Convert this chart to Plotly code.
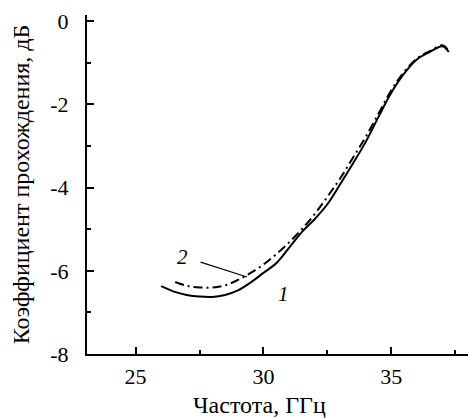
import plotly.graph_objects as go

# Curve 1 (solid)
freq1 = [26.0, 26.5, 27.0, 27.5, 28.0, 28.5, 29.0, 29.5, 30.0, 30.5, 31.0, 31.5,
         32.0, 32.5, 33.0, 33.5, 34.0, 34.5, 35.0, 35.5, 36.0, 36.5, 37.0, 37.25]
s1 = [-6.37, -6.50, -6.58, -6.62, -6.63, -6.58, -6.47, -6.28, -6.05, -5.82, -5.45, -5.07,
      -4.76, -4.40, -3.92, -3.42, -2.90, -2.30, -1.72, -1.26, -0.92, -0.74, -0.60, -0.74]

# Curve 2 (dash-dot)
freq2 = [26.55, 27.0, 27.5, 28.0, 28.5, 29.0, 29.5, 30.0, 30.5, 31.0, 31.5, 32.0,
         32.5, 33.0, 33.5, 34.0, 34.5, 35.0, 35.5, 36.0, 36.5, 37.0, 37.25]
s2 = [-6.27, -6.36, -6.40, -6.40, -6.35, -6.22, -6.05, -5.85, -5.60, -5.32, -5.00, -4.64,
      -4.22, -3.78, -3.28, -2.78, -2.22, -1.66, -1.22, -0.90, -0.72, -0.58, -0.72]

x_ticks = [25, 30, 35]
x_labels = ["25", "30", "35"]
y_ticks = [0, -2, -4, -6, -8]
y_labels = ["0", "-2", "-4", "-6", "-8"]

FONT = "'Liberation Serif', 'Times New Roman', 'DejaVu Serif', serif"

fig = go.Figure()
fig.add_trace(go.Scatter(x=freq1, y=s1, mode="lines", line=dict(color="black", width=2, shape="spline"),
                         showlegend=False))
fig.add_trace(go.Scatter(x=freq2, y=s2, mode="lines",
                         line=dict(color="black", width=2, dash="9px,4px,2px,4px", shape="spline"),
                         showlegend=False))

# leader line for label 2
fig.add_shape(type="line", x0=27.54, y0=-5.79, x1=29.36, y1=-6.15, line=dict(color="black", width=1.2))
fig.add_annotation(x=26.82, y=-5.67, text="<i>2</i>", showarrow=False, font=dict(family=FONT, size=21, color="black"))
fig.add_annotation(x=30.79, y=-6.55, text="<i>1</i>", showarrow=False, font=dict(family=FONT, size=21, color="black"))

# x-axis title (offset left of plot centre as in the original)
fig.add_annotation(x=0.453, y=-0.15, xref="paper", yref="paper", text="Частота, ГГц", showarrow=False,
                   xanchor="center", yanchor="middle", font=dict(family=FONT, size=24, color="black"))

fig.update_layout(
    width=468, height=418,
    margin=dict(l=87, r=0, t=15, b=64, autoexpand=False),
    paper_bgcolor="white", plot_bgcolor="white",
    font=dict(family=FONT, size=22, color="black"),
    xaxis=dict(range=[23.1, 38.0], tickvals=x_ticks, ticktext=x_labels, ticks="inside", ticklen=7,
               tickwidth=2, tickcolor="black", showline=True, linewidth=2, linecolor="black",
               showgrid=False, zeroline=False, automargin=False, ticklabelstandoff=2,
               tickfont=dict(family=FONT, size=22),
               minor=dict(dtick=2.5, tick0=0, ticks="inside", ticklen=4, tickwidth=2, tickcolor="black", showgrid=False)),
    yaxis=dict(range=[-8, 0.15], tickvals=y_ticks, ticktext=y_labels, ticks="inside", ticklen=7,
               tickwidth=2, tickcolor="black", showline=True, linewidth=2, linecolor="black",
               showgrid=False, zeroline=False, automargin=False, ticklabelstandoff=12,
               tickfont=dict(family=FONT, size=22),
               minor=dict(dtick=1, tick0=0, ticks="inside", ticklen=4, tickwidth=2, tickcolor="black", showgrid=False),
               title=dict(text="Коэффициент прохождения, дБ", standoff=14, font=dict(family=FONT, size=24))),
)

fig.write_html("out.html", config={"displayModeBar": False},
               post_script="document.body.style.margin='0';document.body.style.padding='0';")
